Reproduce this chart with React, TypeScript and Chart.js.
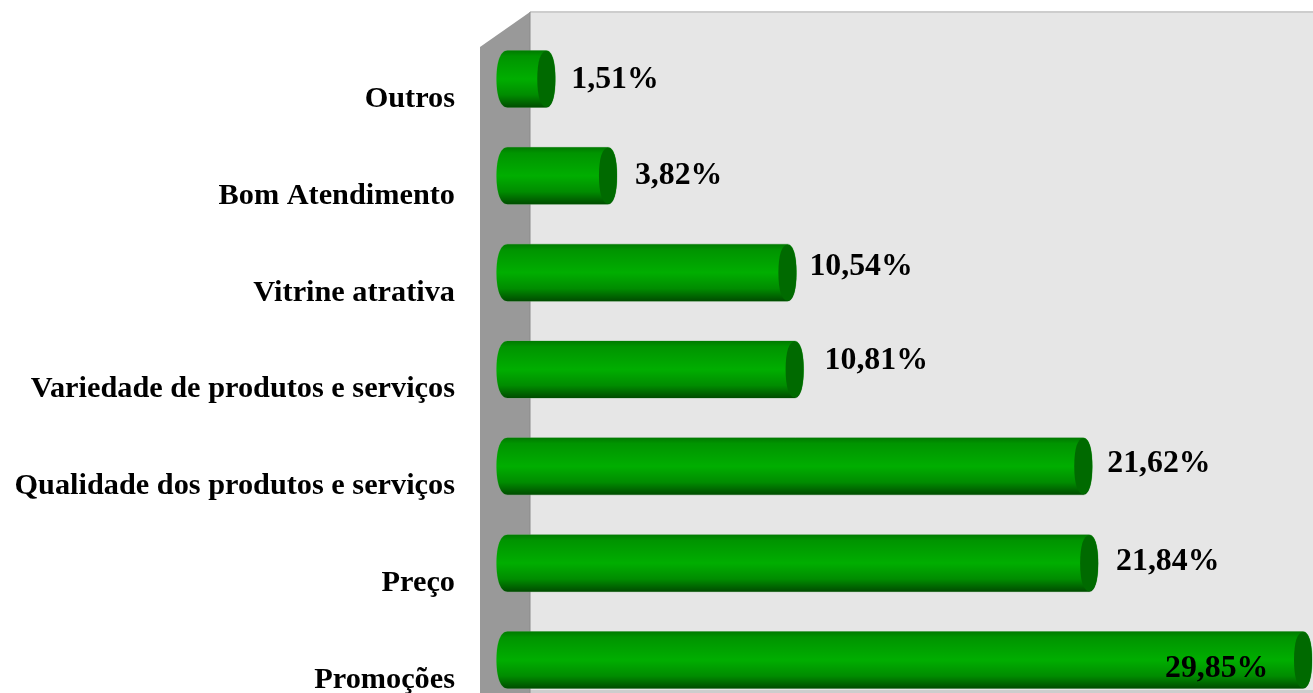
import React, { useEffect, useRef } from "react";
import { Chart, registerables } from "chart.js";

Chart.register(...registerables);

const categories = [
  "Outros",
  "Bom Atendimento",
  "Vitrine atrativa",
  "Variedade de produtos e serviços",
  "Qualidade dos produtos e serviços",
  "Preço",
  "Promoções",
];
const shares = [1.51, 3.82, 10.54, 10.81, 21.62, 21.84, 29.85];
const labelDx = [16, 18, 13, 21, 15, 18, -147];
const labelDy = [1, 0, -6, -9, -3, -1, 9];

const SERIF = '"Liberation Serif", "Times New Roman", serif';
const K = 0.62;

const cylinderPlugin = {
  id: "cylinder",
  beforeDatasetsDraw(chart: any) {
    const { ctx, chartArea } = chart;
    const wallLeft = chartArea.left + 34;
    const sideLeft = chartArea.left - 16;
    const H = chart.height;
    ctx.save();
    ctx.fillStyle = "#e6e6e6";
    ctx.fillRect(wallLeft, 12, chart.width - wallLeft, 678);
    ctx.fillStyle = "#cdcdcd";
    ctx.fillRect(wallLeft, 11, chart.width - wallLeft, 2);
    ctx.fillRect(wallLeft, 690, chart.width - wallLeft, 3);
    ctx.fillStyle = "#999999";
    ctx.beginPath();
    ctx.moveTo(sideLeft, 47);
    ctx.lineTo(wallLeft, 12);
    ctx.lineTo(wallLeft, H);
    ctx.lineTo(sideLeft, H);
    ctx.closePath();
    ctx.fill();
    ctx.strokeStyle = "#8a8a8a";
    ctx.lineWidth = 1;
    ctx.beginPath();
    ctx.moveTo(wallLeft, 12);
    ctx.lineTo(wallLeft, H);
    ctx.stroke();
    ctx.restore();
  },
  afterDatasetsDraw(chart: any) {
    const { ctx } = chart;
    const meta = chart.getDatasetMeta(0);
    ctx.save();
    meta.data.forEach((bar: any, i: number) => {
      const right = bar.x;
      const left = bar.base + 0.5;
      const half = bar.height / 2;
      const cy = bar.y;
      const top = cy - half;
      const bottom = cy + half;
      const rx = 9;
      const lx = 11;
      const g = ctx.createLinearGradient(0, top, 0, bottom);
      g.addColorStop(0, "#007a00");
      g.addColorStop(0.1, "#009400");
      g.addColorStop(0.5, "#00ae00");
      g.addColorStop(0.78, "#008c00");
      g.addColorStop(1, "#004c00");
      const cxR = right - rx;
      const cxL = left + lx;
      ctx.beginPath();
      ctx.moveTo(cxL, top);
      ctx.lineTo(cxR, top);
      ctx.bezierCurveTo(cxR + rx * K, top, right, cy - half * K, right, cy);
      ctx.bezierCurveTo(right, cy + half * K, cxR + rx * K, bottom, cxR, bottom);
      ctx.lineTo(cxL, bottom);
      ctx.bezierCurveTo(cxL - lx * K, bottom, left, cy + half * K, left, cy);
      ctx.bezierCurveTo(left, cy - half * K, cxL - lx * K, top, cxL, top);
      ctx.closePath();
      ctx.strokeStyle = "rgba(110,170,110,0.5)";
      ctx.lineWidth = 1;
      ctx.stroke();
      ctx.fillStyle = g;
      ctx.fill();
      ctx.beginPath();
      ctx.moveTo(cxR, top + 0.5);
      ctx.bezierCurveTo(cxR + rx * K, top + 0.5, right, cy - half * K, right, cy);
      ctx.bezierCurveTo(right, cy + half * K, cxR + rx * K, bottom - 0.5, cxR, bottom - 0.5);
      ctx.bezierCurveTo(cxR - rx * K, bottom - 0.5, cxR - rx, cy + half * K, cxR - rx, cy);
      ctx.bezierCurveTo(cxR - rx, cy - half * K, cxR - rx * K, top + 0.5, cxR, top + 0.5);
      ctx.closePath();
      ctx.fillStyle = "#006a00";
      ctx.fill();

      ctx.fillStyle = "#000000";
      ctx.font = `bold 31.8px ${SERIF}`;
      ctx.textAlign = "left";
      ctx.textBaseline = "middle";
      const text = shares[i].toFixed(2).replace(".", ",") + "%";
      ctx.fillText(text, right + labelDx[i], cy + labelDy[i]);
    });
    ctx.restore();
  },
};

export default function App() {
  const ref = useRef<HTMLCanvasElement | null>(null);
  useEffect(() => {
    if (!ref.current) return;
    const chart = new Chart(ref.current, {
      type: "bar",
      data: {
        labels: categories,
        datasets: [
          {
            data: shares,
            base: -0.71,
            backgroundColor: "rgba(0,0,0,0)",
            borderWidth: 0,
            barThickness: 57,
            clip: false,
          } as any,
        ],
      },
      options: {
        indexAxis: "y",
        animation: false,
        responsive: false,
        layout: { padding: { top: 79, bottom: 33, left: 0, right: 1 } },
        plugins: { legend: { display: false }, tooltip: { enabled: false } },
        scales: {
          x: { display: false, min: -0.71, max: 29.85 },
          y: {
            offset: false,
            afterFit: (s: any) => {
              s.width = 496;
              s.paddingTop = 0;
              s.paddingBottom = 0;
            },
            grid: { display: false, drawTicks: false },
            border: { display: false },
            ticks: {
              color: "#000000",
              padding: 41,
              labelOffset: 20,
              autoSkip: false,
              font: { family: SERIF, weight: "bold", size: 30.3 },
            },
          },
        },
      },
      plugins: [cylinderPlugin],
    } as any);
    return () => chart.destroy();
  }, []);
  return (
    <canvas
      ref={ref}
      width={1313}
      height={693}
      style={{ position: "fixed", left: 0, top: 0, width: 1313, height: 693, display: "block" }}
    />
  );
}
